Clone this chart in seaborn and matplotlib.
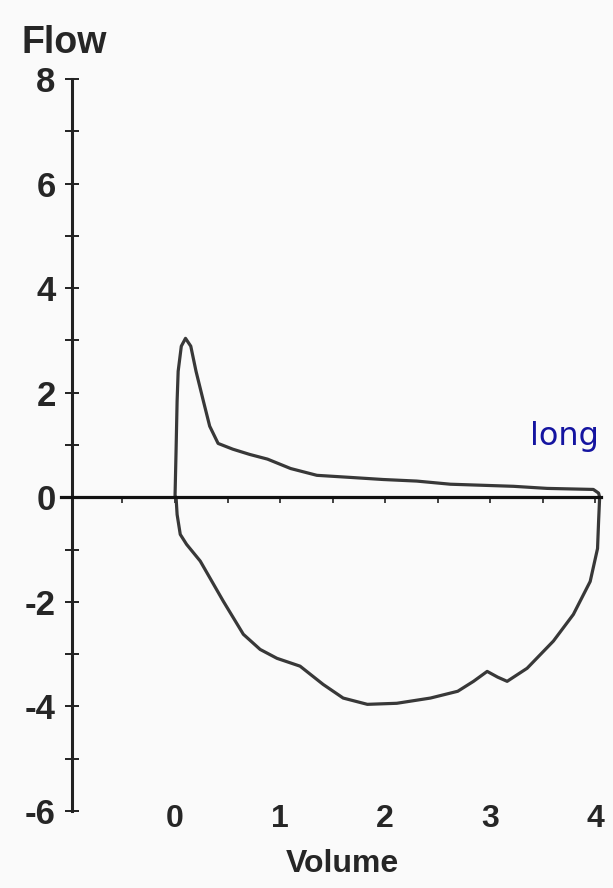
import matplotlib
matplotlib.use("Agg")
import matplotlib.pyplot as plt
from matplotlib.ticker import MultipleLocator, FixedLocator
import seaborn as sns
import pandas as pd
import numpy as np

# Expiratory limb (upper), volume increasing
exp_volume = [0.00, 0.01, 0.02, 0.03, 0.06, 0.10, 0.15, 0.20, 0.27, 0.33, 0.41, 0.55,
              0.71, 0.88, 1.10, 1.35, 1.67, 1.98, 2.30, 2.62, 3.22, 3.54, 3.98, 4.03, 4.04]
exp_flow = [0.00, 0.88, 1.84, 2.41, 2.89, 3.04, 2.89, 2.41, 1.84, 1.36, 1.03, 0.92,
            0.82, 0.73, 0.55, 0.42, 0.38, 0.34, 0.31, 0.25, 0.21, 0.17, 0.15, 0.08, 0.00]
# Inspiratory limb (lower), volume decreasing
insp_volume = [4.04, 4.03, 4.02, 3.95, 3.79, 3.60, 3.35, 3.16, 3.07, 2.97, 2.84, 2.69,
               2.43, 2.11, 1.83, 1.60, 1.41, 1.19, 0.97, 0.81, 0.65, 0.46, 0.24, 0.11,
               0.05, 0.02, 0.01]
insp_flow = [0.00, -0.46, -0.98, -1.61, -2.24, -2.75, -3.27, -3.52, -3.44, -3.33, -3.52, -3.71,
             -3.84, -3.94, -3.96, -3.84, -3.58, -3.23, -3.08, -2.91, -2.62, -1.99, -1.22, -0.90,
             -0.71, -0.33, 0.00]

y_ticks = [-6, -4, -2, 0, 2, 4, 6, 8]
y_tick_labels = ["-6", "-4", "-2", "0", "2", "4", "6", "8"]
x_ticks = [0, 1, 2, 3, 4]
x_tick_labels = ["0", "1", "2", "3", "4"]

df = pd.DataFrame({
    "Volume": exp_volume + insp_volume,
    "Flow": exp_flow + insp_flow,
})

sns.set_style("white")
plt.rcParams["font.family"] = ["Liberation Sans", "DejaVu Sans"]

bg = "#fafafa"
fig = plt.figure(figsize=(6.13, 8.88), dpi=100, facecolor=bg)
ax = fig.add_axes([72 / 613, 77 / 888, 535 / 613, 732 / 888], facecolor=bg)

sns.lineplot(data=df, x="Volume", y="Flow", sort=False, estimator=None,
             color="#383838", linewidth=2.3, ax=ax)

ax.set_xlim(-0.98, 4.11)
ax.set_ylim(-6, 8)

# y axis
for s in ["top", "right"]:
    ax.spines[s].set_visible(False)
ax.spines["left"].set_linewidth(2.2)
ax.spines["left"].set_color("#222222")
ax.set_yticks(y_ticks)
ax.set_yticklabels(y_tick_labels, fontsize=25, fontweight="bold")
ax.yaxis.set_minor_locator(MultipleLocator(1))
ax.tick_params(axis="y", which="both", direction="inout", length=9.5, width=1.4,
               color="#222222", pad=7, left=True)

# zero line as bottom spine
ax.spines["bottom"].set_position(("data", 0))
ax.spines["bottom"].set_bounds(-1.08, 4.05)
ax.spines["bottom"].set_linewidth(2.3)
ax.spines["bottom"].set_color("#111111")
ax.xaxis.set_major_locator(FixedLocator(list(np.arange(-0.5, 4.01, 0.5))))
ax.tick_params(axis="x", which="both", direction="out", length=4, width=1.2,
               color="#222222", labelbottom=False, bottom=True)
ax.set_ylabel("")

# axis label "Volume" below the tick labels
ax.set_xlabel("Volume", fontsize=23, fontweight="bold")
ax.xaxis.set_label_coords(0.505, -0.083)
ax.xaxis.label.set_va("baseline")

# x tick labels at the bottom
sec = ax.secondary_xaxis(0.012)
sec.set_xticks(x_ticks)
sec.set_xticklabels(x_tick_labels, fontsize=23, fontweight="bold")
sec.tick_params(axis="x", length=0, pad=1)
sec.spines["bottom"].set_visible(False)

# title-like axis label
fig.text(22 / 613, 1 - 53 / 888, "Flow", fontsize=27, fontweight="bold",
         ha="left", va="baseline")

# handwritten annotation
ax.text(3.38, 1.0, "long", fontsize=23, color="#1414a0", ha="left", va="baseline",
        family=["DejaVu Sans"])

fig.savefig("out.png", dpi=100, facecolor=bg)
